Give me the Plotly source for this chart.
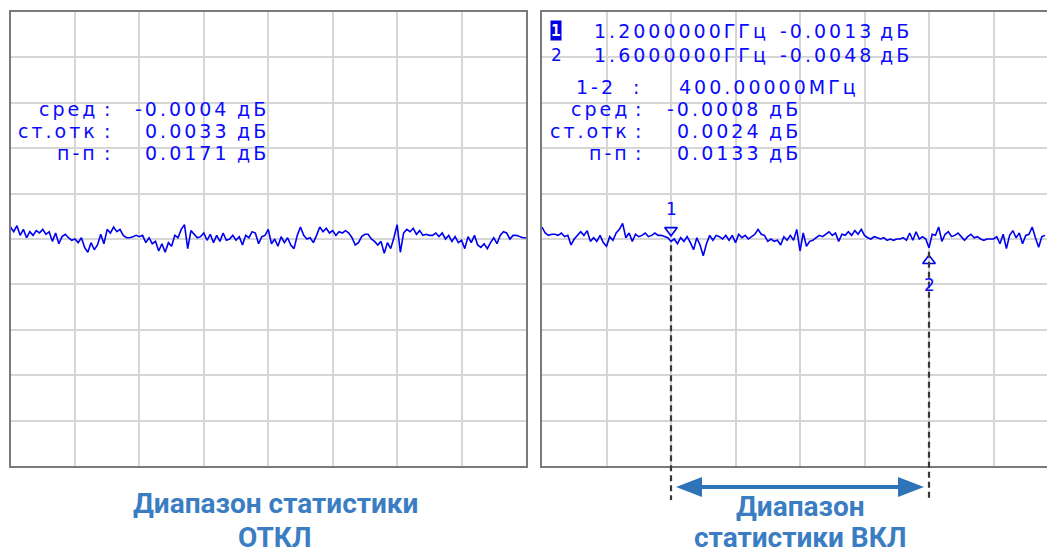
import plotly.graph_objects as go

W, H = 1047, 555

# ---------------- data ----------------
sweep_start_ghz = 1.0
sweep_step_ghz = 0.005
span_ghz = 0.8

left_db = [
    0.0066, 0.0040, 0.0073, 0.0020, 0.0053, 0.0007, 0.0040, 0.0020, 0.0046, 0.0033,
    0.0053, 0.0026, 0.0040, -0.0013, 0.0033, -0.0026, 0.0013, 0.0026, 0.0007, -0.0007,
    0.0000, -0.0020, 0.0007, -0.0046, -0.0073, -0.0020, -0.0059, -0.0033, 0.0026, -0.0026,
    0.0053, 0.0033, 0.0066, 0.0040, 0.0053, 0.0020, 0.0007, 0.0007, 0.0013, 0.0020,
    0.0013, 0.0020, -0.0020, 0.0007, -0.0026, -0.0013, -0.0066, -0.0026, -0.0073, -0.0020,
    -0.0040, 0.0020, 0.0007, 0.0053, 0.0079, -0.0053, 0.0046, 0.0026, 0.0007, 0.0013,
    0.0033, -0.0007, 0.0026, -0.0020, 0.0020, -0.0013, 0.0033, -0.0007, 0.0000, 0.0020,
    -0.0007, 0.0013, -0.0033, 0.0020, 0.0007, 0.0040, 0.0033, -0.0026, 0.0013, 0.0020,
    0.0053, -0.0026, 0.0000, -0.0040, 0.0013, -0.0020, 0.0007, -0.0033, -0.0053, 0.0020,
    0.0066, 0.0020, 0.0000, 0.0007, -0.0020, 0.0020, 0.0066, 0.0040, 0.0059, 0.0033,
    0.0046, 0.0020, 0.0040, 0.0033, 0.0046, 0.0033, 0.0007, -0.0033, -0.0020, 0.0013,
    0.0026, 0.0026, 0.0000, -0.0013, -0.0033, -0.0013, -0.0079, -0.0020, -0.0053, 0.0007,
    0.0079, -0.0073, 0.0033, 0.0053, 0.0040, 0.0059, 0.0026, 0.0046, 0.0020, 0.0026,
    0.0020, 0.0020, 0.0033, 0.0013, 0.0033, 0.0000, 0.0020, -0.0013, 0.0013, -0.0020,
    -0.0007, -0.0053, 0.0013, -0.0020, 0.0020, -0.0033, -0.0046, -0.0026, -0.0053, -0.0020,
    0.0007, -0.0026, 0.0020, 0.0040, 0.0033, 0.0000, 0.0020, 0.0020, 0.0013, 0.0007, 0.0007,
]

right_db = [
    0.0066, 0.0033, 0.0020, 0.0026, 0.0026, 0.0020, 0.0033, 0.0013, 0.0020, -0.0033,
    0.0000, 0.0020, 0.0040, 0.0020, 0.0046, -0.0013, 0.0007, -0.0013, 0.0020, -0.0020,
    -0.0040, 0.0013, -0.0007, 0.0033, 0.0053, 0.0086, 0.0007, 0.0033, -0.0013, 0.0026,
    0.0013, 0.0020, 0.0033, 0.0013, 0.0020, 0.0033, 0.0020, 0.0020, 0.0013, 0.0007,
    -0.0013, 0.0000, -0.0026, 0.0007, -0.0013, 0.0013, -0.0020, -0.0059, 0.0007, -0.0033,
    -0.0092, -0.0026, 0.0020, -0.0007, 0.0020, 0.0013, 0.0000, 0.0020, -0.0007, 0.0020,
    -0.0020, 0.0026, 0.0007, 0.0020, 0.0000, 0.0013, 0.0026, 0.0053, 0.0026, 0.0020,
    -0.0013, 0.0000, -0.0013, -0.0007, -0.0033, 0.0013, -0.0007, 0.0020, -0.0007, 0.0053,
    -0.0066, 0.0033, -0.0040, -0.0013, -0.0007, 0.0007, 0.0020, 0.0013, 0.0026, 0.0040,
    0.0020, 0.0033, -0.0013, 0.0026, 0.0020, 0.0040, 0.0020, 0.0046, 0.0026, 0.0053,
    0.0020, 0.0007, 0.0000, 0.0013, 0.0007, 0.0000, 0.0007, -0.0007, 0.0000, -0.0007,
    0.0000, 0.0000, 0.0007, -0.0007, 0.0033, -0.0007, 0.0040, 0.0000, 0.0013, 0.0000,
    -0.0048, 0.0026, 0.0020, 0.0066, -0.0013, 0.0026, 0.0040, 0.0013, 0.0020, 0.0033,
    0.0013, -0.0007, 0.0013, 0.0026, 0.0007, 0.0013, 0.0000, -0.0007, 0.0000, 0.0000,
    0.0000, 0.0013, -0.0026, 0.0026, -0.0053, 0.0020, 0.0046, 0.0007, 0.0033, -0.0026,
    0.0020, 0.0026, 0.0066, 0.0007, -0.0046, 0.0013, 0.0020,
]

left_freq = [round(sweep_start_ghz + sweep_step_ghz * i, 3) for i in range(len(left_db))]
right_freq = [round(sweep_start_ghz + sweep_step_ghz * i, 3) for i in range(len(right_db))]

marker_ids = ["1", "2"]
marker_freq_ghz = [1.2, 1.6]
marker_db = [-0.0013, -0.0048]
marker_freq_txt = ["1.2000000ГГц", "1.6000000ГГц"]
marker_db_txt = ["-0.0013", "-0.0048"]
delta_label = "1-2"
delta_txt = "400.00000МГц"

stat_labels = ["сред", "ст.отк", "п-п"]
stat_left = ["-0.0004", "0.0033", "0.0171"]
stat_right = ["-0.0008", "0.0024", "0.0133"]
unit = "дБ"

caption_left = ["Диапазон статистики", "ОТКЛ"]
caption_right = ["Диапазон", "статистики ВКЛ"]

# ---------------- styling ----------------
Y_RANGE = [-0.125, 0.125]
Y_DTICK = 0.025
TRACE_BLUE = "#0000f0"
TXT_BLUE = "#0a0aff"
CAP_BLUE = "#3a7dc2"
ARROW_BLUE = "#2e73b8"
GRID = "#d6d6d6"
FRAME = "#7a7a7a"

def px(x):
    return x / W

def py(y):
    return 1 - y / H

top_px, bot_px = 12, 466
ydom = [py(bot_px), py(top_px)]
left_dom = [px(10.5), px(526)]
right_dom = [px(542), 1.0]
right_range = [sweep_start_ghz, sweep_start_ghz + span_ghz * (W - 542) / 516.0]

def db_to_paper(v):
    return ydom[0] + (v - Y_RANGE[0]) / (Y_RANGE[1] - Y_RANGE[0]) * (ydom[1] - ydom[0])

fig = go.Figure()
fig.add_trace(go.Scatter(x=left_freq, y=left_db, mode="lines",
                         line=dict(color=TRACE_BLUE, width=1.6), xaxis="x", yaxis="y",
                         showlegend=False, hoverinfo="skip"))
fig.add_trace(go.Scatter(x=right_freq, y=right_db, mode="lines",
                         line=dict(color=TRACE_BLUE, width=1.6), xaxis="x2", yaxis="y2",
                         showlegend=False, hoverinfo="skip"))

axis_common = dict(showgrid=True, gridcolor=GRID, gridwidth=2, zeroline=False,
                   showticklabels=False, ticks="", linecolor=FRAME, linewidth=2)

fig.update_layout(
    width=W, height=H, margin=dict(l=0, r=0, t=0, b=0),
    paper_bgcolor="white", plot_bgcolor="white", showlegend=False,
    xaxis=dict(domain=left_dom, range=[sweep_start_ghz, sweep_start_ghz + span_ghz],
               dtick=0.1, tick0=sweep_start_ghz, showline=True, mirror=True,
               anchor="y", **axis_common),
    yaxis=dict(domain=ydom, range=Y_RANGE, dtick=Y_DTICK, tick0=0, showline=True,
               mirror=True, anchor="x", **axis_common),
    xaxis2=dict(domain=right_dom, range=right_range, dtick=0.1, tick0=sweep_start_ghz,
                showline=True, mirror=True, anchor="y2", **axis_common),
    yaxis2=dict(domain=ydom, range=Y_RANGE, dtick=Y_DTICK, tick0=0, showline=True,
                mirror=False, anchor="x2", **axis_common),
)

# ---------------- marker symbols ----------------
db_per_px = (Y_RANGE[1] - Y_RANGE[0]) / (bot_px - top_px)
sym_y = [marker_db[0] + 11 * db_per_px, marker_db[1] - 13 * db_per_px]
fig.add_trace(go.Scatter(x=marker_freq_ghz, y=sym_y, mode="markers",
                         marker=dict(symbol=["triangle-down-open", "triangle-up-open"],
                                     size=11, color=TRACE_BLUE, line=dict(width=1.6, color=TRACE_BLUE)),
                         xaxis="x2", yaxis="y2", showlegend=False, hoverinfo="skip", cliponaxis=False))

ann = []
FONT = "DejaVu Sans"
LS = 3.0

def sp(t):
    return '<span style="letter-spacing:%.1fpx">%s</span>' % (LS, t)

def txt(x, y, t, anchor, size=19, color=TXT_BLUE, **kw):
    ann.append(dict(x=px(x), y=py(y), xref="paper", yref="paper", text=sp(t),
                    showarrow=False, xanchor=anchor, yanchor="middle",
                    font=dict(family=FONT, size=size, color=color), **kw))

# marker number labels near symbols
ann.append(dict(x=marker_freq_ghz[0], y=marker_db[0], xref="x2", yref="y2", text=marker_ids[0],
                showarrow=False, yshift=32, font=dict(family=FONT, size=17, color=TXT_BLUE)))
ann.append(dict(x=marker_freq_ghz[1], y=marker_db[1], xref="x2", yref="y2", text=marker_ids[1],
                showarrow=False, yshift=-37, font=dict(family=FONT, size=17, color=TXT_BLUE)))

# statistics blocks
rows = [108.5, 130.5, 153]
for off, vals in ((0, stat_left), (531.5, stat_right)):
    for r, lab, v in zip(rows, stat_labels, vals):
        txt(97 + LS + off, r, lab, "right")
        txt(108 + off, r, ":", "center")
        txt(228 + LS + off, r, v, "right")
        txt(235 + off, r, unit, "left")

# marker readouts (right panel)
for r, mid, ftxt, vtxt in zip([31, 55], marker_ids, marker_freq_txt, marker_db_txt):
    if mid == "1":
        ann.append(dict(x=px(556), y=py(r), xref="paper", yref="paper", text="<b>1</b>",
                        showarrow=False, xanchor="center", yanchor="middle", bgcolor="#0000e0",
                        borderpad=0, font=dict(family="DejaVu Sans Mono", size=16, color="white")))
    else:
        txt(556 + LS / 2, r, mid, "center", size=17)
    txt(592, r, ftxt, "left")
    txt(873 + LS, r, vtxt, "right")
    txt(878, r, unit, "left")

txt(615 + LS, 87, delta_label, "right")
txt(637, 87, ":", "center")
txt(677, 87, delta_txt, "left")

# captions
def cap(x, y, t):
    ann.append(dict(x=px(x), y=py(y), xref="paper", yref="paper", text="<b>%s</b>" % t,
                    showarrow=False, xanchor="center", yanchor="middle",
                    font=dict(family="Roboto", size=28, color=CAP_BLUE)))

cap(275, 503, caption_left[0])
cap(275, 537, caption_left[1])
cap(800, 506, caption_right[0])
cap(800, 537, caption_right[1])

# ---------------- shapes: dashed marker lines + double arrow ----------------
shapes = []
for f, v in zip(marker_freq_ghz, marker_db):
    shapes.append(dict(type="line", xref="x2", yref="paper", x0=f, x1=f,
                       y0=db_to_paper(v) - 4 / H, y1=py(500),
                       line=dict(color="#383838", width=2.2, dash="6px,4px")))

ghz_per_px = span_ghz / 516.0
ay = py(487)
gap = 5 * ghz_per_px
head = 26 * ghz_per_px
hh = 10 / H
xa, xb = marker_freq_ghz[0] + gap, marker_freq_ghz[1] - gap
shapes.append(dict(type="line", xref="x2", yref="paper", x0=xa + head - 2 * ghz_per_px,
                   x1=xb - head + 2 * ghz_per_px, y0=ay, y1=ay,
                   line=dict(color=ARROW_BLUE, width=4)))
shapes.append(dict(type="path", xref="x2", yref="paper",
                   path="M %f,%f L %f,%f L %f,%f Z" % (xa, ay, xa + head, ay + hh, xa + head, ay - hh),
                   fillcolor=ARROW_BLUE, line=dict(width=0)))
shapes.append(dict(type="path", xref="x2", yref="paper",
                   path="M %f,%f L %f,%f L %f,%f Z" % (xb, ay, xb - head, ay + hh, xb - head, ay - hh),
                   fillcolor=ARROW_BLUE, line=dict(width=0)))

fig.update_layout(annotations=ann, shapes=shapes)
fig.write_html("out.html", config={"displayModeBar": False},
               post_script="document.body.style.margin='0px';document.body.style.overflow='hidden';")
